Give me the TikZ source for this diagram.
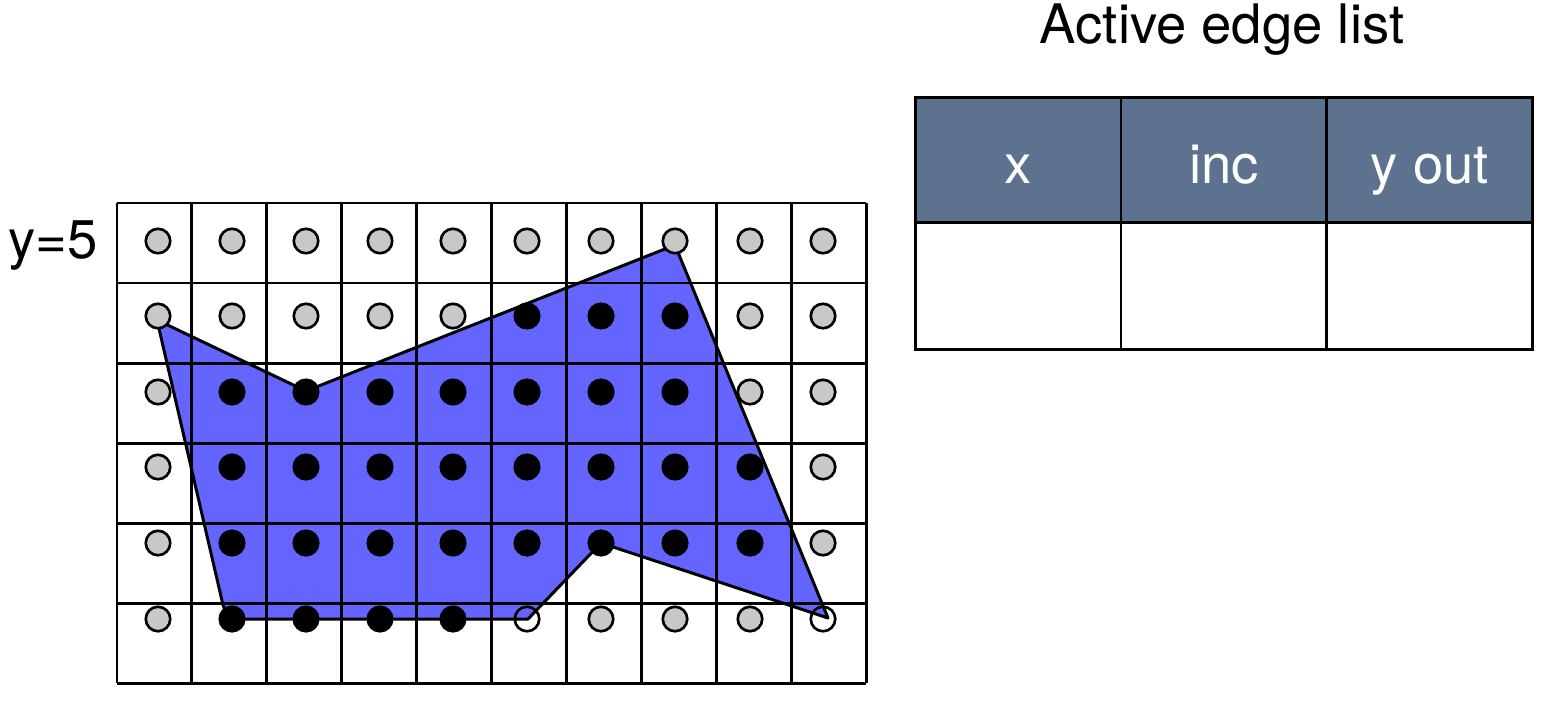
\documentclass[tikz,border=0pt]{standalone}
\usepackage{fontspec}
\setmainfont{TeX Gyre Heros}
\usetikzlibrary{positioning}
\definecolor{fillblue}{RGB}{100,100,255}
\definecolor{dotgrey}{RGB}{200,200,200}
\definecolor{slate}{RGB}{92,114,143}

\begin{document}
\begin{tikzpicture}[x=0.02cm, y=-0.02cm,
every node/.append style = {inner sep=0pt, outer sep=0pt},
node distance = 0pt,
  gline/.style = {line width=1.7pt},
   pdot/.style = {circle, draw, line width=1.5pt, minimum size=0.49cm},
   dotg/.style = {pdot, fill=dotgrey},
   dotb/.style = {pdot, fill=black},
   doth/.style = {pdot},
    lbl/.style = {font=\fontsize{31}{37}\selectfont},
  hcell/.style = {draw, line width=1.7pt, fill=slate, text=white,
                  text height=1.1cm, text depth=0.16cm,
                  minimum width=4.12cm, minimum height=2.52cm},
  bcell/.style = {draw, line width=1.7pt,
                  minimum width=4.12cm, minimum height=2.54cm}
                    ]
\useasboundingbox (0,0) rectangle (1550,720);
% polygon
\fill[fillblue] (157,320) -- (306,391) -- (675,245) -- (828,618)
      -- (601,543) -- (528,619) -- (229,619) -- (223,605) -- cycle;
% grid
\foreach \i in {0,...,10}
  \draw[gline] ({117+74.9*\i},203) -- ({117+74.9*\i},683);
\foreach \j in {0,...,6}
  \draw[gline] (117,{203+80*\j}) -- (866,{203+80*\j});
\draw[gline, line join=round] (157,320) -- (306,391) -- (675,245) -- (828,618)
      -- (601,543) -- (528,619) -- (229,619) -- (223,605) -- cycle;
% sample points
\foreach \y/\kinds [count=\r] in {241/{g,g,g,g,g,g,g,g,g,g},
                                  316/{g,g,g,g,g,b,b,b,g,g},
                                  392/{g,b,b,b,b,b,b,b,g,g},
                                  467/{g,b,b,b,b,b,b,b,b,g},
                                  543/{g,b,b,b,b,b,b,b,b,g},
                                  619/{g,b,b,b,b,h,g,g,g,h}}
  \foreach \k [count=\c] in \kinds {
    \pgfmathsetmacro\xx{{158,232,306,380,453,527,601,675,750,823}[\c-1]}
    \node[dot\k] (d\r-\c) at (\xx,\y) {};
  }
% labels
\node[lbl] (ylabel) at (53,246)   {y=5};
\node[lbl] (title)  at (1222,30)  {Active edge list};
% edge table
\node[hcell, lbl]                (hx)    at (1018,160) {x};
\node[hcell, lbl, right=of hx]   (hinc)  {inc};
\node[hcell, lbl, right=of hinc] (hyout) {y out};
\node[bcell, below=of hx]        (bx)    {};
\node[bcell, below=of hinc]      (binc)  {};
\node[bcell, below=of hyout]     (byout) {};
\end{tikzpicture}
\end{document}
